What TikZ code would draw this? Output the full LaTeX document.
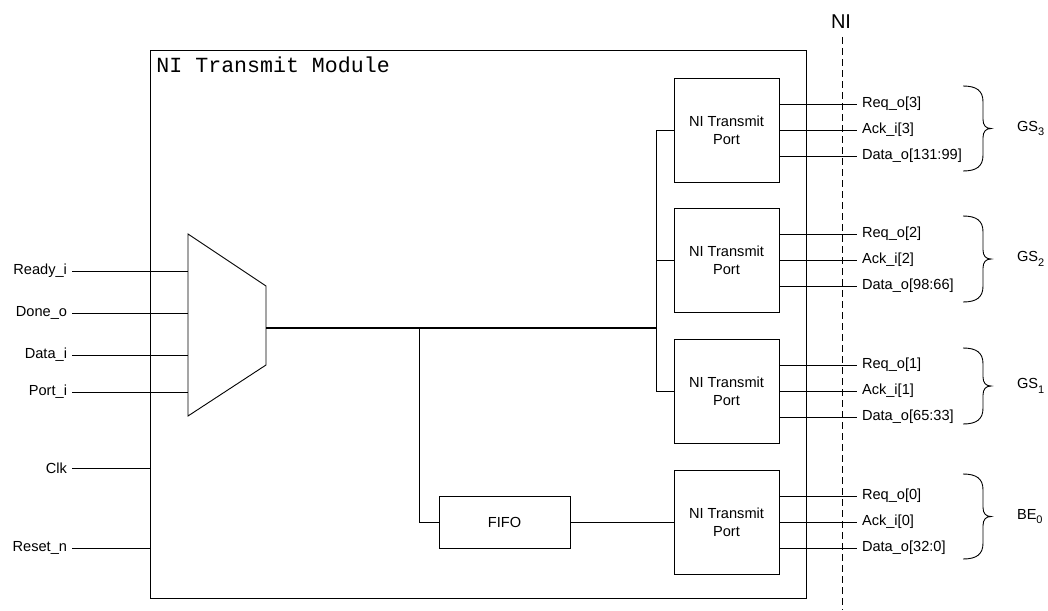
\documentclass[tikz,border=0pt]{standalone}
\usepackage{fontspec}
\setmainfont{Liberation Sans}
\newfontfamily\modfont{Liberation Mono}
\usetikzlibrary{positioning}
\newcommand\chsub[1]{\raisebox{-4.5pt}{\fontsize{11}{11}\selectfont #1}}
\tikzset{
  sig/.style={font=\fontsize{14.6}{17}\selectfont, inner sep=2.5pt, outer sep=2.5pt},
  portbox/.style={draw, minimum width=105pt, minimum height=104pt, align=center,
    font=\fontsize{14.6}{18}\selectfont, inner sep=0pt},
}
\begin{document}
\begin{tikzpicture}[x=1pt, y=-1pt, line width=0.9pt]
  \useasboundingbox (0,0) rectangle (1048,610);
  % module and NI boundary
  \draw (150,50) rectangle (806,598);
  \node[anchor=base west, inner sep=0pt, font=\modfont\fontsize{21.6}{26}\selectfont]
    (title) at (156,72) {NI Transmit Module};
  \node[font=\fontsize{20}{24}\selectfont, inner sep=0pt] (ni) at (841,22) {NI};
  \coordinate (nitop) at (842,37);
  \coordinate (nibot) at (842,610);
  \draw[dash pattern=on 7pt off 4pt] (nitop) -- (nibot);

  % multiplexer and inputs
  \draw (188,234) -- (266,286) -- (266,365) -- (188,416) -- cycle;
  \coordinate (muxout) at (266,328);
  \foreach \name/\txt/\y in {ready/Ready\_i/271, done/Done\_o/313, data/Data\_i/355, port/Port\_i/392} {
    \node[sig, anchor=east] (\name) at (72,\y) {\txt};
    \coordinate (\name-in) at (188,\y);
    \draw (\name) -- (\name-in);
  }
  \foreach \name/\txt/\y in {clk/Clk/468, rst/Reset\_n/548} {
    \node[sig, anchor=east] (\name) at (72,\y) {\txt};
    \coordinate (\name-in) at (150,\y);
    \draw (\name) -- (\name-in);
  }

  % transmit ports and fifo
  \foreach \i/\y in {3/130, 2/260, 1/391, 0/522}
    \node[portbox] (p\i) at (726.5,\y) {NI Transmit\\Port};
  \node[portbox, minimum width=131pt, minimum height=52pt] (fifo) at (504.5,522) {FIFO};

  \coordinate (split) at (419,328);
  \coordinate (trunk) at (656,328);
  \draw[line width=1.5pt] (muxout) -- (trunk);
  \draw (p3.west) -| (trunk) |- (p1.west);
  \draw (trunk |- p2.west) -- (p2.west);
  \draw (split) |- (fifo.west);
  \draw (fifo) -- (p0);

  % outputs
  \foreach \i/\y/\rng in {3/130/131:99, 2/260/98:66, 1/391/65:33, 0/522/32:0} {
    \node[sig, anchor=west] (req\i) at (857,\y-26) {Req\_o[\i]};
    \node[sig, anchor=west] (ack\i) at (857,\y) {Ack\_i[\i]};
    \node[sig, anchor=west] (dat\i) at (857,\y+26) {Data\_o[\rng]};
    \draw (p\i.east |- req\i) -- (req\i);
    \draw (p\i.east |- ack\i) -- (ack\i);
    \draw (p\i.east |- dat\i) -- (dat\i);
  }

  % channel braces
  \foreach \g/\t/\b/\lab in {gs3/86/171/GS\chsub{3}, gs2/216/302/GS\chsub{2},
      gs1/348/424/GS\chsub{1}, be0/474/559/BE\chsub{0}} {
    \pgfmathsetmacro\m{(\t+\b)/2}
    \draw (963,\t) .. controls (977,\t) and (983,\t+5) .. (983,\t+16)
      -- (983,\m-9) .. controls (983,\m-3) and (986,\m) .. (991,\m)
      .. controls (986,\m) and (983,\m+3) .. (983,\m+9)
      -- (983,\b-16) .. controls (983,\b-5) and (977,\b) .. (963,\b);
    \node[sig, anchor=west, inner sep=0pt, outer sep=0pt] (\g) at (1017,\m) {\lab};
  }
\end{tikzpicture}
\end{document}
